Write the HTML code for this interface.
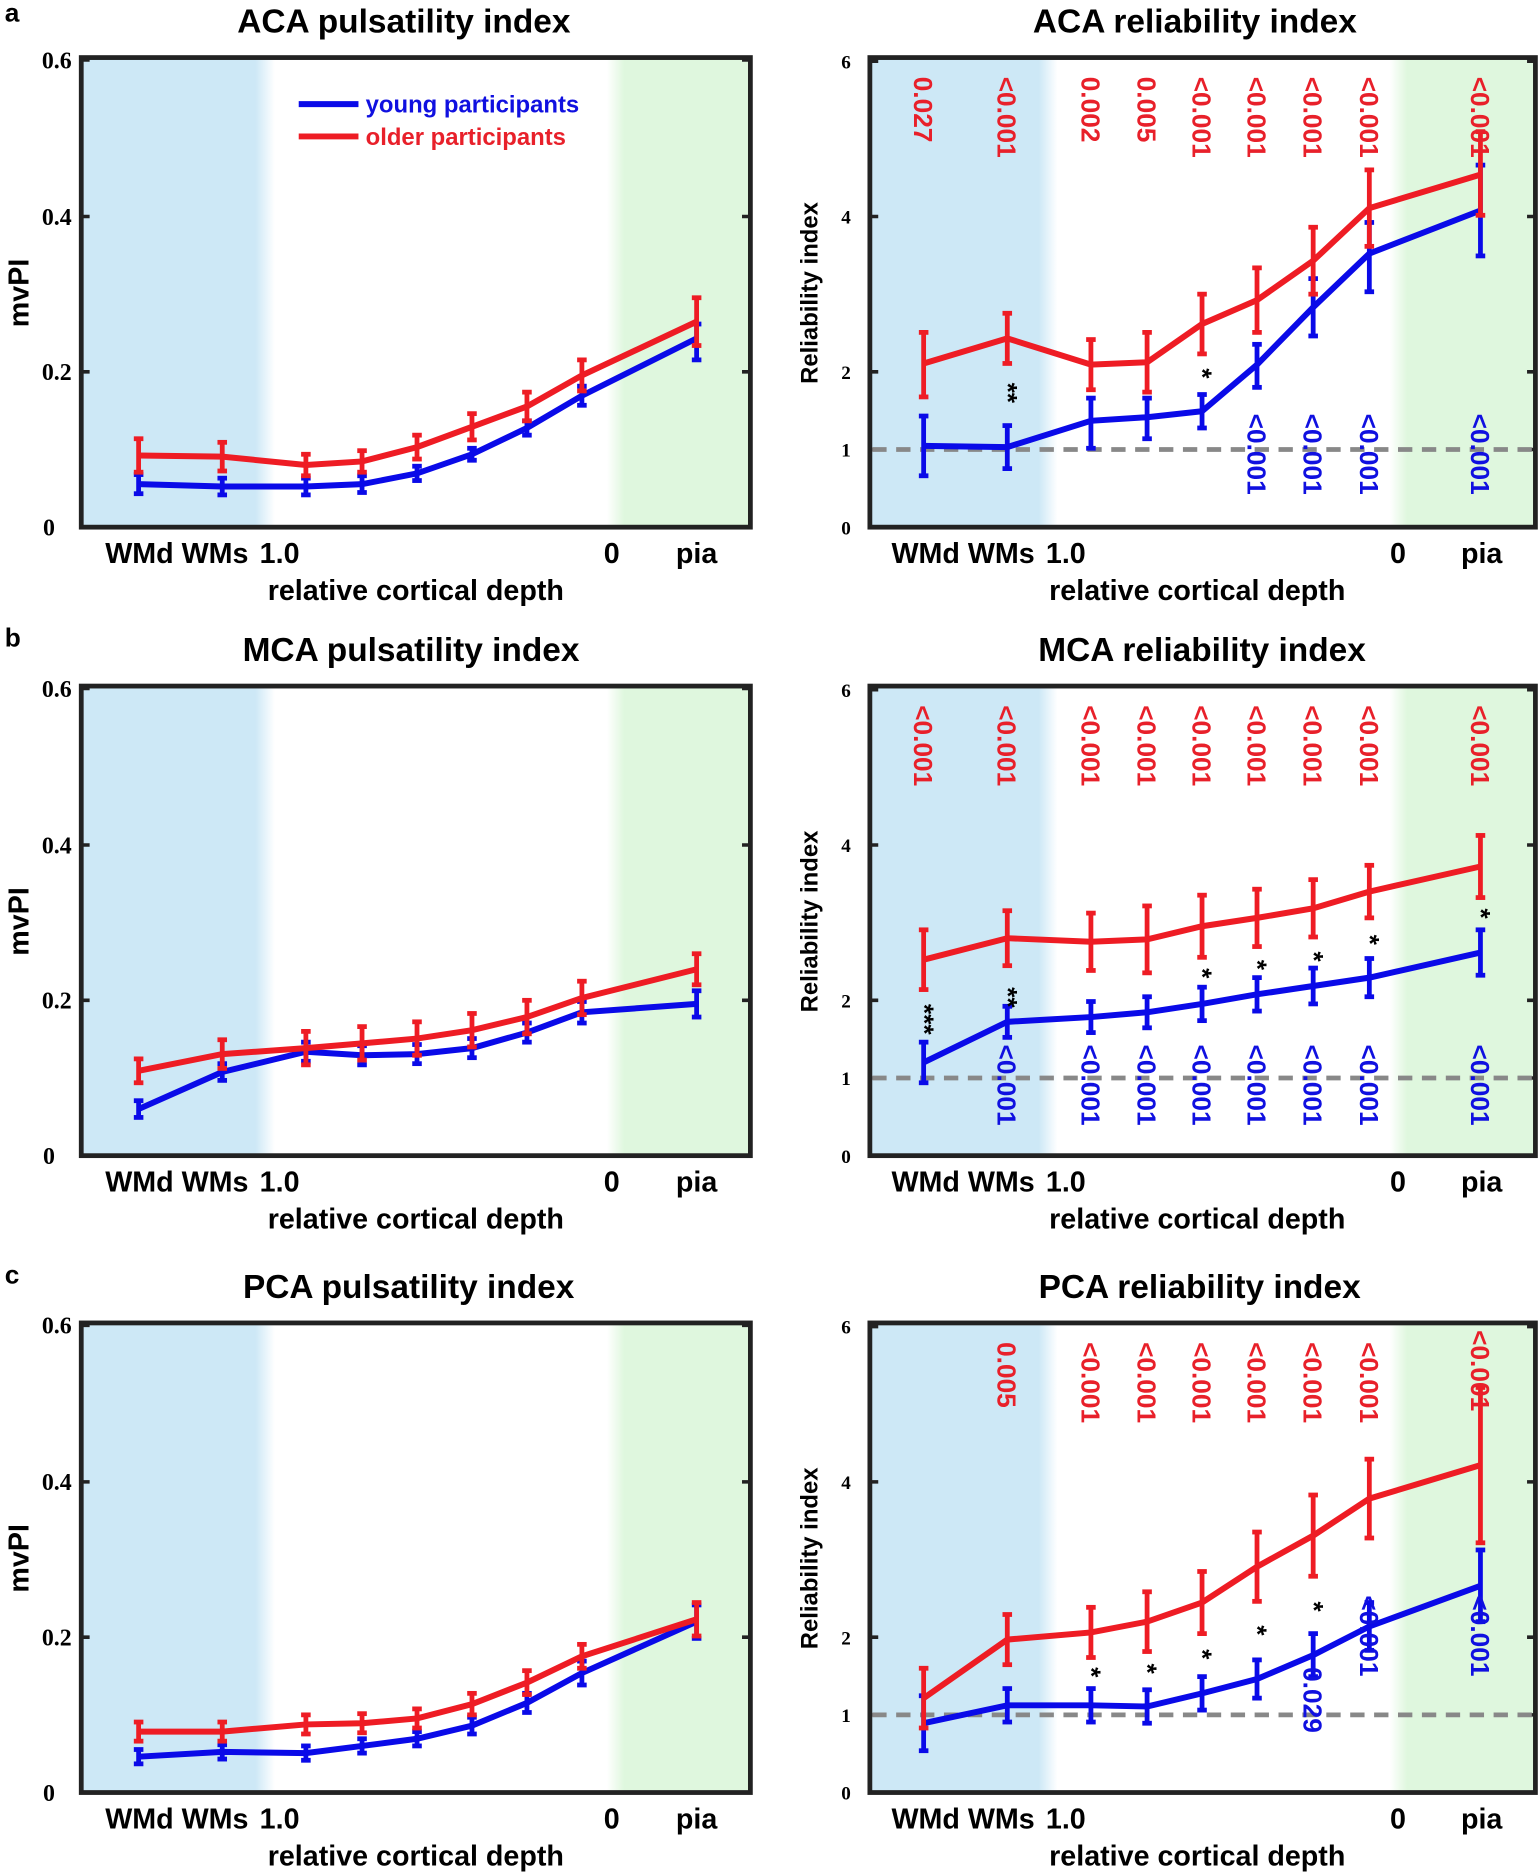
<!DOCTYPE html>
<html><head><meta charset="utf-8"><style>
html,body{margin:0;padding:0;background:#fff}
svg{display:block}
text{font-family:"Liberation Sans",Arial,sans-serif;font-weight:bold}
.t{font-size:28px;text-anchor:middle}
.xl{font-size:24px;text-anchor:middle}
.yl{font-family:"Liberation Serif",serif;font-size:20px;text-anchor:end}
.ry{font-family:"Liberation Serif",serif;font-size:16px;text-anchor:end}
.pr{fill:#e8202a;font-size:22px}
.pb{fill:#1010e0;font-size:22px}
.st{font-size:22px}
.b{fill:none;stroke:#0a0ae8;stroke-width:5}
.r{fill:none;stroke:#ee1c24;stroke-width:5}
.be{fill:none;stroke:#0a0ae8;stroke-width:4;marker-start:url(#cb);marker-mid:url(#cb);marker-end:url(#cb)}
.re{fill:none;stroke:#ee1c24;stroke-width:4;marker-start:url(#cr);marker-mid:url(#cr);marker-end:url(#cr)}
.ax{fill:none;stroke:#222;stroke-width:4}
</style></head><body>
<svg width="1539" height="1874" viewBox="0 0 1288 1568" xmlns="http://www.w3.org/2000/svg">
<defs>
<marker id="cb" markerUnits="userSpaceOnUse" markerWidth="10" markerHeight="6" refX="5" refY="3" orient="0" overflow="visible"><line x1="1" y1="3" x2="9" y2="3" stroke="#0a0ae8" stroke-width="4"/></marker>
<marker id="cr" markerUnits="userSpaceOnUse" markerWidth="10" markerHeight="6" refX="5" refY="3" orient="0" overflow="visible"><line x1="1" y1="3" x2="9" y2="3" stroke="#ee1c24" stroke-width="4"/></marker>
<linearGradient id="gb" x1="0" x2="1"><stop offset="0" stop-color="#cde8f6"/><stop offset="0.9" stop-color="#cde8f6"/><stop offset="1" stop-color="#fff"/></linearGradient>
<linearGradient id="gg" x1="0" x2="1"><stop offset="0" stop-color="#fff"/><stop offset="0.12" stop-color="#dff7de"/><stop offset="1" stop-color="#dff7de"/></linearGradient>
<g id="lp">
<rect x="68" y="48" width="162" height="393" fill="url(#gb)"/>
<rect x="508" y="48" width="120" height="393" fill="url(#gg)"/>
<rect x="68" y="48" width="560" height="393" class="ax"/>
<path d="M68 50h7M68 181h7M68 311h7M621 50h7M621 181h7M621 311h7" stroke="#222" stroke-width="3"/>
<text class="yl" x="60" y="57">0.6</text><text class="yl" x="60" y="188">0.4</text><text class="yl" x="60" y="318">0.2</text><text class="yl" x="46" y="448">0</text>
<text class="xl" x="148" y="471">WMd WMs</text><text class="xl" x="234" y="471">1.0</text><text class="xl" x="512" y="471">0</text><text class="xl" x="583" y="471">pia</text>
<text class="xl" x="348" y="502">relative cortical depth</text>
<text class="xl" transform="translate(24,245) rotate(-90)">mvPI</text>
</g>
<g id="rp">
<rect x="728" y="48" width="157" height="393" fill="url(#gb)"/>
<rect x="1163" y="48" width="122" height="393" fill="url(#gg)"/>
<rect x="728" y="48" width="557" height="393" class="ax"/>
<path d="M728 51h7M728 181h7M728 311h7M728 376h7M1278 51h7M1278 181h7M1278 311h7M1278 376h7" stroke="#222" stroke-width="3"/>
<line x1="730" y1="376" x2="1283" y2="376" stroke="#888" stroke-width="4" stroke-dasharray="12,8"/>
<text class="ry" x="712" y="57">6</text><text class="ry" x="712" y="187">4</text><text class="ry" x="712" y="317">2</text><text class="ry" x="712" y="382">1</text><text class="ry" x="712" y="447">0</text>
<text class="xl" x="806" y="471">WMd WMs</text><text class="xl" x="892" y="471">1.0</text><text class="xl" x="1170" y="471">0</text><text class="xl" x="1240" y="471">pia</text>
<text class="xl" x="1002" y="502">relative cortical depth</text>
<text class="xl" style="font-size:20px" transform="translate(684,245) rotate(-90)">Reliability index</text>
</g>
</defs>

<!-- panel a -->
<text x="4" y="18" style="font-size:22px">a</text>
<text class="t" x="338" y="27">ACA pulsatility index</text>
<text class="t" x="1000" y="27">ACA reliability index</text>
<use href="#lp"/><use href="#rp"/>
<line x1="250" y1="87" x2="300" y2="87" stroke="#0a0ae8" stroke-width="5"/><text x="306" y="94" style="font-size:20px;fill:#1010e0">young participants</text>
<line x1="250" y1="114" x2="300" y2="114" stroke="#ee1c24" stroke-width="5"/><text x="306" y="121" style="font-size:20px;fill:#e8202a">older participants</text>
<path class="be" d="M116 397v16M186 400v14M256 400v14M303 398v14M349 390v12M395 375v10M441 352v12M487 323v16M583 271v30"/>
<polyline class="b" points="116,405 186,407 256,407 303,405 349,396 395,380 441,358 487,331 583,283"/>
<path class="re" d="M116 367v28M186 370v24M256 380v18M303 377v18M349 364v20M395 346v22M441 328v24M487 301v26M583 249v40"/>
<polyline class="r" points="116,381 186,382 256,389 303,386 349,374 395,357 441,340 487,314 583,269"/>
<path class="be" d="M773 348v50M843 356v36M913 333v42M960 333v34M1006 330v28M1052 288v36M1099 233v48M1146 186v58M1239 138v76"/>
<polyline class="b" points="773,373 843,374 913,352 960,349 1006,344 1052,305 1099,257 1146,212 1239,176"/>
<path class="re" d="M773 278v54M843 262v42M913 284v42M960 278v50M1006 246v50M1052 224v54M1099 190v56M1146 142v64M1239 110v70"/>
<polyline class="r" points="773,304 843,283 913,305 960,303 1006,271 1052,251 1099,218 1146,174 1239,146"/>
<g class="pr">
<text transform="translate(765,64) rotate(90)">0.027</text><text transform="translate(835,64) rotate(90)">&lt;0.001</text>
<text transform="translate(905,64) rotate(90)">0.002</text><text transform="translate(952,64) rotate(90)">0.005</text>
<text transform="translate(998,64) rotate(90)">&lt;0.001</text><text transform="translate(1044,64) rotate(90)">&lt;0.001</text>
<text transform="translate(1091,64) rotate(90)">&lt;0.001</text><text transform="translate(1138,64) rotate(90)">&lt;0.001</text>
<text transform="translate(1231,64) rotate(90)">&lt;0.001</text></g>
<g class="pb">
<text transform="translate(1044,346) rotate(90)">&lt;0.001</text><text transform="translate(1091,346) rotate(90)">&lt;0.001</text>
<text transform="translate(1138,346) rotate(90)">&lt;0.001</text><text transform="translate(1231,346) rotate(90)">&lt;0.001</text></g>
<g class="st"><text transform="translate(836,320) rotate(90)">**</text><text transform="translate(999,308) rotate(90)">*</text></g>

<!-- panel b -->
<text x="4" y="541" style="font-size:22px">b</text>
<text class="t" x="344" y="553">MCA pulsatility index</text>
<text class="t" x="1006" y="553">MCA reliability index</text>
<g transform="translate(0,526)">
<use href="#lp"/><use href="#rp"/>
<path class="be" d="M116 395v14M186 364v14M256 346v16M303 349v16M349 348v16M395 343v16M441 330v16M487 312v18M583 303v22"/>
<polyline class="b" points="116,402 186,371 256,354 303,357 349,356 395,351 441,338 487,321 583,314"/>
<path class="re" d="M116 360v20M186 344v24M256 337v28M303 333v28M349 329v28M395 322v28M441 311v28M487 295v28M583 272v26"/>
<polyline class="r" points="116,370 186,356 256,351 303,347 349,343 395,336 441,325 487,309 583,285"/>
<path class="be" d="M773 346v34M843 316v26M913 312v26M960 308v26M1006 300v28M1052 292v28M1099 284v30M1146 276v32M1239 252v38"/>
<polyline class="b" points="773,363 843,329 913,325 960,321 1006,314 1052,306 1099,299 1146,292 1239,271"/>
<path class="re" d="M773 252v50M843 236v46M913 238v48M960 232v56M1006 223v52M1052 218v48M1099 210v48M1146 198v44M1239 173v52"/>
<polyline class="r" points="773,277 843,259 913,262 960,260 1006,249 1052,242 1099,234 1146,220 1239,199"/>
<g class="pr">
<text transform="translate(765,64) rotate(90)">&lt;0.001</text><text transform="translate(835,64) rotate(90)">&lt;0.001</text>
<text transform="translate(905,64) rotate(90)">&lt;0.001</text><text transform="translate(952,64) rotate(90)">&lt;0.001</text>
<text transform="translate(998,64) rotate(90)">&lt;0.001</text><text transform="translate(1044,64) rotate(90)">&lt;0.001</text>
<text transform="translate(1091,64) rotate(90)">&lt;0.001</text><text transform="translate(1138,64) rotate(90)">&lt;0.001</text>
<text transform="translate(1231,64) rotate(90)">&lt;0.001</text></g>
<g class="pb">
<text transform="translate(835,348) rotate(90)">&lt;0.001</text><text transform="translate(905,348) rotate(90)">&lt;0.001</text>
<text transform="translate(952,348) rotate(90)">&lt;0.001</text><text transform="translate(998,348) rotate(90)">&lt;0.001</text>
<text transform="translate(1044,348) rotate(90)">&lt;0.001</text><text transform="translate(1091,348) rotate(90)">&lt;0.001</text>
<text transform="translate(1138,348) rotate(90)">&lt;0.001</text><text transform="translate(1231,348) rotate(90)">&lt;0.001</text></g>
<g class="st"><text transform="translate(766,314) rotate(90)">***</text><text transform="translate(836,300) rotate(90)">**</text>
<text transform="translate(999,284) rotate(90)">*</text><text transform="translate(1045,277) rotate(90)">*</text>
<text transform="translate(1092,270) rotate(90)">*</text><text transform="translate(1139,256) rotate(90)">*</text><text transform="translate(1232,234) rotate(90)">*</text></g>
</g>

<!-- panel c -->
<text x="4" y="1074" style="font-size:22px">c</text>
<text class="t" x="342" y="1086">PCA pulsatility index</text>
<text class="t" x="1004" y="1086">PCA reliability index</text>
<g transform="translate(0,1059)">
<use href="#lp"/><use href="#rp"/>
<path class="be" d="M116 405v12M186 401v12M256 402v12M303 396v12M349 390v12M395 378v14M441 358v16M487 331v20M583 284v28"/>
<polyline class="b" points="116,411 186,407 256,408 303,402 349,396 395,385 441,366 487,341 583,298"/>
<path class="re" d="M116 382v16M186 382v16M256 376v16M303 375v16M349 371v16M395 358v18M441 339v20M487 317v20M583 282v28"/>
<polyline class="r" points="116,390 186,390 256,384 303,383 349,379 395,367 441,349 487,327 583,296"/>
<path class="be" d="M773 360v46M843 354v28M913 354v28M960 355v28M1006 344v28M1052 330v32M1099 308v36M1146 282v40M1239 238v60"/>
<polyline class="b" points="773,383 843,368 913,368 960,369 1006,358 1052,346 1099,326 1146,302 1239,268"/>
<path class="re" d="M773 337v50M843 292v42M913 286v42M960 273v50M1006 256v52M1052 223v58M1099 192v68M1146 162v66M1239 102v130"/>
<polyline class="r" points="773,362 843,313 913,307 960,298 1006,282 1052,252 1099,226 1146,195 1239,167"/>
<g class="pr">
<text transform="translate(835,64) rotate(90)">0.005</text>
<text transform="translate(905,64) rotate(90)">&lt;0.001</text><text transform="translate(952,64) rotate(90)">&lt;0.001</text>
<text transform="translate(998,64) rotate(90)">&lt;0.001</text><text transform="translate(1044,64) rotate(90)">&lt;0.001</text>
<text transform="translate(1091,64) rotate(90)">&lt;0.001</text><text transform="translate(1138,64) rotate(90)">&lt;0.001</text>
<text transform="translate(1231,54) rotate(90)">&lt;0.001</text></g>
<g class="pb">
<text transform="translate(1091,336) rotate(90)">0.029</text><text transform="translate(1138,276) rotate(90)">&lt;0.001</text>
<text transform="translate(1231,276) rotate(90)">&lt;0.001</text></g>
<g class="st"><text transform="translate(906,336) rotate(90)">*</text><text transform="translate(953,333) rotate(90)">*</text>
<text transform="translate(999,321) rotate(90)">*</text><text transform="translate(1045,301) rotate(90)">*</text><text transform="translate(1092,281) rotate(90)">*</text></g>
</g>
</svg>
</body></html>
